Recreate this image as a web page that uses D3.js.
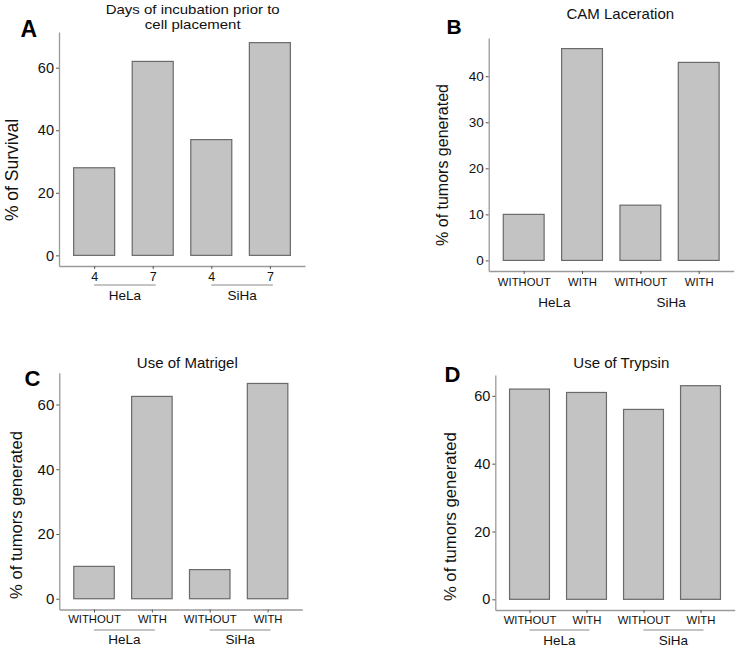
<!DOCTYPE html>
<html>
<head>
<meta charset="utf-8">
<script src="https://cdn.jsdelivr.net/npm/d3@7"></script>
<style>
  body { margin: 0; background: #fff; }
  svg text { font-family: 'Liberation Sans', Arial, sans-serif; fill: #111; }
</style>
</head>
<body>
<svg id="chart" width="744" height="647"></svg>
<script>
// values
const cellLines = ['HeLa', 'SiHa'];
const dayLabels = ['4', '7', '4', '7'];
const treatmentLabels = ['WITHOUT', 'WITH', 'WITHOUT', 'WITH'];
const survivalByDays = [28, 62, 37, 68];
const tumorsByLaceration = [10, 46, 12, 43];
const tumorsByMatrigel = [10, 62.5, 9, 66.5];
const tumorsByTrypsin = [62, 61, 56, 63];
const ticksSurvival = [0, 20, 40, 60];
const ticksLaceration = [0, 10, 20, 30, 40];
const ticksMatrigel = [0, 20, 40, 60];
const ticksTrypsin = [0, 20, 40, 60];

const svg = d3.select('#chart');

const panels = [
  {
    letter: 'A', letterX: 20.5, letterY: 36.7, letterSize: 23,
    title: ['Days of incubation prior to', 'cell placement'], titleX: 192.7, titleY: 14, titleSize: 12.6,
    titleStretch: 1.19, titleGap: 14.6,
    yTitle: '% of Survival', yTitleX: 12.3, yTitleY: 170, yTitleSize: 17.5,
    values: survivalByDays, labels: dayLabels, yTicks: ticksSurvival,
    left: 59, right: 305, top: 32, bottom: 266,
    yTickSize: 14.5, xTickSize: 12.5, xPad: 3,
    groupLines: true, groupLineY: 285, groupTextY: 300,
  },
  {
    letter: 'B', letterX: 446.5, letterY: 34.3, letterSize: 21,
    title: ['CAM Laceration'], titleX: 620.3, titleY: 19.3, titleSize: 15,
    yTitle: '% of tumors generated', yTitleX: 442, yTitleY: 165, yTitleSize: 16,
    values: tumorsByLaceration, labels: treatmentLabels, yTicks: ticksLaceration,
    left: 488.7, right: 733.7, top: 38, bottom: 271,
    yTickSize: 13.5, xTickSize: 11.3, xPad: 4.3,
    groupLines: false, groupTextY: 306.5,
  },
  {
    letter: 'C', letterX: 24.5, letterY: 385.7, letterSize: 22,
    title: ['Use of Matrigel'], titleX: 187.3, titleY: 367.7, titleSize: 15,
    yTitle: '% of tumors generated', yTitleX: 16, yTitleY: 515, yTitleSize: 16.6,
    values: tumorsByMatrigel, labels: treatmentLabels, yTicks: ticksMatrigel,
    left: 59.3, right: 302.3, top: 372.7, bottom: 609.5,
    yTickSize: 15, xTickSize: 11.3, xPad: 2.5,
    groupLines: true, groupLineY: 630, groupTextY: 644,
  },
  {
    letter: 'D', letterX: 444.5, letterY: 381.7, letterSize: 22,
    title: ['Use of Trypsin'], titleX: 621.3, titleY: 367.7, titleSize: 15,
    yTitle: '% of tumors generated', yTitleX: 450.3, yTitleY: 516.7, yTitleSize: 16.7,
    values: tumorsByTrypsin, labels: treatmentLabels, yTicks: ticksTrypsin,
    left: 495.3, right: 734.7, top: 375, bottom: 610,
    yTickSize: 14.5, xTickSize: 11.3, xPad: 2.8,
    groupLines: true, groupLineY: 630, groupTextY: 645,
  },
];

const drawPanel = p => {
  const g = svg.append('g');
  const maxV = d3.max(p.values);
  // ggplot style 5% expansion on y
  const y = d3.scaleLinear()
    .domain([-0.05 * maxV, 1.05 * maxV])
    .range([p.bottom, p.top]);
  const x = d3.scalePoint()
    .domain(d3.range(p.values.length))
    .range([p.left, p.right])
    .padding(0.6);
  const bw = x.step() * 0.7;

  g.selectAll('.bar')
    .data(p.values)
    .enter()
    .append('rect')
    .attr('class', 'bar')
    .attr('x', (d, i) => x(i) - bw / 2)
    .attr('y', d => y(d))
    .attr('width', bw)
    .attr('height', d => y(0) - y(d))
    .attr('fill', '#c3c3c3')
    .attr('stroke', '#6a6a6a')
    .attr('stroke-width', 1.2);

  const yAxis = g.append('g')
    .attr('transform', `translate(${p.left},0)`)
    .call(d3.axisLeft(y).tickValues(p.yTicks).tickSize(3).tickPadding(2).tickSizeOuter(0));
  yAxis.selectAll('text').attr('font-size', p.yTickSize).style('fill', '#111');

  const xAxis = g.append('g')
    .attr('transform', `translate(0,${p.bottom})`)
    .call(d3.axisBottom(x).tickSize(3).tickPadding(p.xPad).tickSizeOuter(0)
      .tickFormat(i => p.labels[i]));
  xAxis.selectAll('text').attr('font-size', p.xTickSize).style('fill', '#111');

  [yAxis, xAxis].forEach(a => {
    a.select('.domain').attr('stroke', '#9a9a9a').attr('stroke-width', 1.3);
    a.selectAll('.tick line').attr('stroke', '#555');
  });

  cellLines.forEach((name, k) => {
    const x0 = x(2 * k);
    const x1 = x(2 * k + 1) + 3;
    if (p.groupLines) {
      g.append('line')
        .attr('x1', x0).attr('x2', x1)
        .attr('y1', p.groupLineY).attr('y2', p.groupLineY)
        .attr('stroke', '#8a8a8a')
        .attr('stroke-width', 1);
    }
    g.append('text')
      .attr('x', (x0 + x1) / 2)
      .attr('y', p.groupTextY)
      .attr('text-anchor', 'middle')
      .attr('font-size', 13.5)
      .text(name);
  });

  g.append('text')
    .attr('transform', `translate(${p.yTitleX},${p.yTitleY}) rotate(-90)`)
    .attr('text-anchor', 'middle')
    .attr('dy', '0.35em')
    .attr('font-size', p.yTitleSize)
    .text(p.yTitle);

  // title lines, the first panel's is two tight lines slightly widened
  p.title.forEach((line, i) => {
    g.append('text')
      .attr('transform', `translate(${p.titleX},${p.titleY + i * (p.titleGap || 0)}) scale(${p.titleStretch || 1},1)`)
      .attr('text-anchor', 'middle')
      .attr('font-size', p.titleSize)
      .text(line);
  });

  g.append('text')
    .attr('x', p.letterX)
    .attr('y', p.letterY)
    .attr('font-size', p.letterSize)
    .attr('font-weight', 'bold')
    .style('fill', '#000')
    .text(p.letter);
};

panels.forEach(drawPanel);
</script>
</body>
</html>
